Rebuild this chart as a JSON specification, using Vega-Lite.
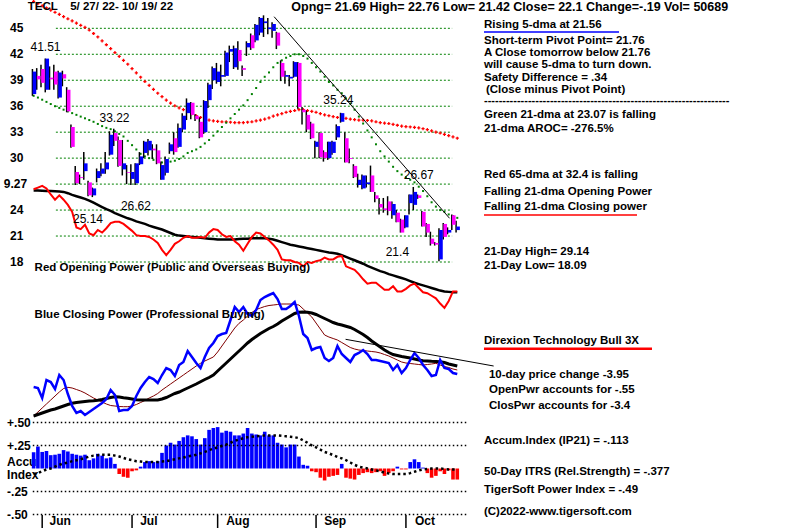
{
"$schema": "https://vega.github.io/schema/vega-lite/v6.json",
"width": 800, "height": 528, "padding": 0,
"autosize": {"type": "none"},
"background": "white",
"config": {"view": {"stroke": null}, "text": {"font": "Liberation Sans"}},
"datasets": {
"d": [
{"i":0,"o":37.4,"h":40.3,"l":37.2,"c":40.0,"m65":48.1,"m21":37.2,"opb":26.25,"opr":26.4,"cp":33,"cpb":4,"cpr":4,"ai":0.177,"aim":-0.06},
{"i":1,"o":39.5,"h":40.4,"l":37.9,"c":39.1,"m65":47.85,"m21":37.0,"opb":26.25,"opr":26.6,"cp":32,"cpb":5.5,"cpr":8,"ai":0.239,"aim":-0.05},
{"i":2,"o":40.3,"h":40.8,"l":38.2,"c":38.7,"m65":47.6,"m21":36.75,"opb":26.22,"opr":26.8,"cp":22,"cpb":7,"cpr":12,"ai":0.18,"aim":-0.03},
{"i":3,"o":37.9,"h":41.51,"l":37.6,"c":41.5,"m65":47.35,"m21":36.5,"opb":26.2,"opr":26.5,"cp":40,"cpb":8.5,"cpr":16,"ai":0.19,"aim":-0.01},
{"i":4,"o":39.3,"h":40.6,"l":37.9,"c":39.1,"m65":47.1,"m21":36.25,"opb":26.2,"opr":25.8,"cp":38,"cpb":10,"cpr":20,"ai":0.145,"aim":0.0},
{"i":5,"o":40.0,"h":40.8,"l":37.9,"c":38.5,"m65":46.85,"m21":36.0,"opb":26.18,"opr":25.2,"cp":31,"cpb":11,"cpr":24,"ai":0.15,"aim":0.02},
{"i":6,"o":37.0,"h":40.1,"l":36.9,"c":39.9,"m65":46.6,"m21":35.8,"opb":26.15,"opr":25.7,"cp":45,"cpb":12.5,"cpr":28,"ai":0.16,"aim":0.04},
{"i":7,"o":39.7,"h":40.1,"l":38.3,"c":39.2,"m65":46.35,"m21":35.6,"opb":26.1,"opr":25.2,"cp":40,"cpb":14,"cpr":31.5,"ai":0.2,"aim":0.055},
{"i":8,"o":37.9,"h":38.2,"l":35.3,"c":35.4,"m65":46.1,"m21":35.4,"opb":25.95,"opr":24.6,"cp":26,"cpb":15.5,"cpr":32.7,"ai":0.185,"aim":0.065},
{"i":9,"o":33.6,"h":33.9,"l":31.2,"c":31.3,"m65":45.85,"m21":35.2,"opb":25.75,"opr":23.8,"cp":14,"cpb":16.7,"cpr":32,"ai":0.16,"aim":0.08},
{"i":10,"o":28.4,"h":29.1,"l":26.9,"c":27.1,"m65":45.6,"m21":35.0,"opb":25.6,"opr":22.0,"cp":7,"cpb":17.5,"cpr":30.5,"ai":0.15,"aim":0.09},
{"i":11,"o":27.8,"h":28.1,"l":27.0,"c":27.7,"m65":45.35,"m21":34.8,"opb":25.45,"opr":21.8,"cp":9,"cpb":18,"cpr":29,"ai":0.14,"aim":0.1},
{"i":12,"o":28.5,"h":30.7,"l":27.5,"c":29.4,"m65":45.1,"m21":34.6,"opb":25.3,"opr":22.3,"cp":5,"cpb":18.5,"cpr":27,"ai":0.15,"aim":0.115},
{"i":13,"o":27.2,"h":27.4,"l":25.6,"c":25.7,"m65":44.8,"m21":34.4,"opb":25.1,"opr":21.3,"cp":8,"cpb":19,"cpr":24.5,"ai":0.09,"aim":0.13},
{"i":14,"o":25.7,"h":26.6,"l":25.5,"c":26.5,"m65":44.4,"m21":34.2,"opb":24.85,"opr":21.1,"cp":11,"cpb":19.3,"cpr":22,"ai":0.11,"aim":0.14},
{"i":15,"o":27.7,"h":28.8,"l":27.2,"c":28.5,"m65":44.0,"m21":33.95,"opb":24.6,"opr":21.7,"cp":14,"cpb":19.8,"cpr":20,"ai":0.16,"aim":0.145},
{"i":16,"o":28.2,"h":29.4,"l":27.9,"c":28.8,"m65":43.55,"m21":33.7,"opb":24.35,"opr":21.4,"cp":17,"cpb":20.5,"cpr":18,"ai":0.14,"aim":0.15},
{"i":17,"o":28.7,"h":30.7,"l":28.2,"c":29.5,"m65":43.1,"m21":33.5,"opb":24.1,"opr":21.9,"cp":21,"cpb":21.5,"cpr":16,"ai":0.11,"aim":0.15},
{"i":18,"o":30.4,"h":33.1,"l":30.3,"c":32.7,"m65":42.65,"m21":33.35,"opb":23.9,"opr":22.5,"cp":30,"cpb":22.5,"cpr":14.5,"ai":0.12,"aim":0.15},
{"i":19,"o":32.9,"h":33.4,"l":31.4,"c":32.0,"m65":42.2,"m21":33.1,"opb":23.65,"opr":22.65,"cp":25,"cpb":23.3,"cpr":14,"ai":0.05,"aim":0.14},
{"i":20,"o":32.1,"h":32.5,"l":29.0,"c":29.1,"m65":41.75,"m21":32.8,"opb":23.45,"opr":22.65,"cp":9,"cpb":23,"cpr":13.5,"ai":-0.06,"aim":0.13},
{"i":21,"o":28.7,"h":32.1,"l":28.0,"c":29.4,"m65":41.3,"m21":32.5,"opb":23.25,"opr":22.4,"cp":10,"cpb":22.3,"cpr":13.3,"ai":-0.09,"aim":0.115},
{"i":22,"o":28.4,"h":29.2,"l":27.0,"c":28.3,"m65":40.85,"m21":32.0,"opb":23.05,"opr":22.0,"cp":10,"cpb":21.7,"cpr":13.3,"ai":-0.1,"aim":0.1},
{"i":23,"o":27.6,"h":29.3,"l":26.9,"c":28.4,"m65":40.35,"m21":31.5,"opb":22.9,"opr":21.6,"cp":14,"cpb":21,"cpr":14,"ai":-0.03,"aim":0.09},
{"i":24,"o":27.1,"h":29.4,"l":26.9,"c":29.4,"m65":39.85,"m21":31.0,"opb":22.7,"opr":21.1,"cp":24,"cpb":20.3,"cpr":15.5,"ai":-0.02,"aim":0.08},
{"i":25,"o":29.3,"h":30.7,"l":29.2,"c":30.2,"m65":39.35,"m21":30.5,"opb":22.55,"opr":21.0,"cp":32,"cpb":20,"cpr":17.5,"ai":0.02,"aim":0.075},
{"i":26,"o":30.6,"h":32.0,"l":30.0,"c":31.9,"m65":38.85,"m21":30.2,"opb":22.4,"opr":21.0,"cp":38,"cpb":20,"cpr":19.5,"ai":0.07,"aim":0.07},
{"i":27,"o":30.9,"h":32.2,"l":30.3,"c":32.0,"m65":38.4,"m21":30.0,"opb":22.2,"opr":20.9,"cp":43,"cpb":20,"cpr":22,"ai":0.08,"aim":0.07},
{"i":28,"o":31.1,"h":31.6,"l":29.9,"c":30.9,"m65":37.95,"m21":29.8,"opb":22.05,"opr":20.6,"cp":41,"cpb":20,"cpr":24,"ai":0.07,"aim":0.07},
{"i":29,"o":30.9,"h":31.6,"l":29.3,"c":29.4,"m65":37.5,"m21":29.6,"opb":21.9,"opr":20.2,"cp":37,"cpb":20,"cpr":26.5,"ai":0.08,"aim":0.07},
{"i":30,"o":27.5,"h":29.6,"l":27.5,"c":29.2,"m65":37.1,"m21":29.5,"opb":21.75,"opr":19.4,"cp":45,"cpb":21,"cpr":30,"ai":0.17,"aim":0.075},
{"i":31,"o":28.3,"h":30.2,"l":28.0,"c":29.9,"m65":36.7,"m21":29.5,"opb":21.55,"opr":18.8,"cp":52,"cpb":22.5,"cpr":33,"ai":0.25,"aim":0.08},
{"i":32,"o":30.8,"h":31.8,"l":30.5,"c":31.6,"m65":36.35,"m21":29.6,"opb":21.35,"opr":19.4,"cp":50,"cpb":24.5,"cpr":36,"ai":0.28,"aim":0.09},
{"i":33,"o":32.3,"h":33.0,"l":30.4,"c":30.7,"m65":36.05,"m21":29.7,"opb":21.15,"opr":20.1,"cp":44,"cpb":26.5,"cpr":39,"ai":0.26,"aim":0.1},
{"i":34,"o":31.3,"h":34.0,"l":31.2,"c":33.5,"m65":35.8,"m21":29.9,"opb":21.05,"opr":20.4,"cp":55,"cpb":28,"cpr":42,"ai":0.3,"aim":0.11},
{"i":35,"o":33.3,"h":35.2,"l":33.0,"c":34.9,"m65":35.6,"m21":30.2,"opb":21.0,"opr":20.8,"cp":58,"cpb":30,"cpr":45,"ai":0.34,"aim":0.12},
{"i":36,"o":35.2,"h":36.9,"l":34.4,"c":36.4,"m65":35.4,"m21":30.6,"opb":20.95,"opr":21.0,"cp":69,"cpb":32,"cpr":48,"ai":0.36,"aim":0.13},
{"i":37,"o":36.4,"h":36.5,"l":34.5,"c":35.0,"m65":35.15,"m21":30.8,"opb":20.9,"opr":20.8,"cp":63,"cpb":34,"cpr":51,"ai":0.35,"aim":0.14},
{"i":38,"o":34.9,"h":35.1,"l":34.3,"c":34.5,"m65":34.9,"m21":31.0,"opb":20.85,"opr":20.8,"cp":57,"cpb":36,"cpr":54,"ai":0.32,"aim":0.15},
{"i":39,"o":34.2,"h":34.7,"l":32.3,"c":32.4,"m65":34.7,"m21":31.3,"opb":20.8,"opr":20.9,"cp":52,"cpb":38.3,"cpr":56.7,"ai":0.26,"aim":0.165},
{"i":40,"o":33.0,"h":36.7,"l":32.8,"c":36.6,"m65":34.55,"m21":31.7,"opb":20.75,"opr":20.8,"cp":63,"cpb":40.5,"cpr":59,"ai":0.33,"aim":0.18},
{"i":41,"o":36.7,"h":38.7,"l":35.8,"c":38.5,"m65":34.4,"m21":32.1,"opb":20.7,"opr":21.4,"cp":72,"cpb":42.5,"cpr":61,"ai":0.42,"aim":0.2},
{"i":42,"o":39.0,"h":40.6,"l":38.0,"c":40.4,"m65":34.3,"m21":32.6,"opb":20.65,"opr":21.8,"cp":77,"cpb":45,"cpr":63,"ai":0.44,"aim":0.215},
{"i":43,"o":38.8,"h":41.0,"l":38.6,"c":40.0,"m65":34.25,"m21":33.1,"opb":20.6,"opr":21.7,"cp":84,"cpb":49,"cpr":68,"ai":0.45,"aim":0.23},
{"i":44,"o":39.4,"h":40.8,"l":38.3,"c":39.6,"m65":34.2,"m21":33.6,"opb":20.6,"opr":21.2,"cp":86,"cpb":53,"cpr":74,"ai":0.39,"aim":0.245},
{"i":45,"o":39.5,"h":42.4,"l":39.4,"c":42.2,"m65":34.2,"m21":34.1,"opb":20.6,"opr":20.9,"cp":87,"cpb":57,"cpr":80,"ai":0.41,"aim":0.26},
{"i":46,"o":42.3,"h":43.0,"l":41.1,"c":42.6,"m65":34.15,"m21":34.6,"opb":20.6,"opr":21.0,"cp":100,"cpb":61,"cpr":86,"ai":0.4,"aim":0.28},
{"i":47,"o":40.5,"h":43.0,"l":40.3,"c":42.7,"m65":34.1,"m21":35.1,"opb":20.6,"opr":20.4,"cp":113,"cpb":65,"cpr":92,"ai":0.36,"aim":0.3},
{"i":48,"o":42.5,"h":43.5,"l":40.2,"c":41.2,"m65":34.1,"m21":35.6,"opb":20.65,"opr":20.0,"cp":108,"cpb":69,"cpr":96.7,"ai":0.36,"aim":0.315},
{"i":49,"o":40.4,"h":40.7,"l":39.5,"c":40.2,"m65":34.1,"m21":36.1,"opb":20.7,"opr":19.3,"cp":113,"cpb":73,"cpr":100,"ai":0.38,"aim":0.33},
{"i":50,"o":42.8,"h":43.5,"l":41.8,"c":43.3,"m65":34.15,"m21":36.7,"opb":20.7,"opr":20.1,"cp":106,"cpb":77,"cpr":104,"ai":0.44,"aim":0.34},
{"i":51,"o":44.2,"h":44.4,"l":42.5,"c":42.7,"m65":34.2,"m21":37.4,"opb":20.75,"opr":20.9,"cp":104,"cpb":80.5,"cpr":107.5,"ai":0.38,"aim":0.345},
{"i":52,"o":43.6,"h":45.5,"l":43.4,"c":45.4,"m65":34.3,"m21":38.1,"opb":20.75,"opr":21.4,"cp":110,"cpb":83.5,"cpr":110.5,"ai":0.37,"aim":0.35},
{"i":53,"o":44.5,"h":46.3,"l":44.2,"c":46.2,"m65":34.4,"m21":38.8,"opb":20.75,"opr":21.3,"cp":120,"cpb":86.5,"cpr":112,"ai":0.36,"aim":0.355},
{"i":54,"o":45.6,"h":46.5,"l":44.0,"c":45.8,"m65":34.5,"m21":39.4,"opb":20.75,"opr":20.9,"cp":123,"cpb":89,"cpr":113.5,"ai":0.4,"aim":0.36},
{"i":55,"o":44.9,"h":46.2,"l":44.3,"c":45.1,"m65":34.65,"m21":39.9,"opb":20.7,"opr":20.5,"cp":125,"cpb":91.5,"cpr":114.5,"ai":0.36,"aim":0.36},
{"i":56,"o":44.7,"h":45.7,"l":43.9,"c":45.5,"m65":34.85,"m21":40.5,"opb":20.6,"opr":20.0,"cp":127,"cpb":93.5,"cpr":115,"ai":0.36,"aim":0.36},
{"i":57,"o":44.5,"h":44.6,"l":42.6,"c":43.0,"m65":35.0,"m21":41.0,"opb":20.45,"opr":19.4,"cp":121,"cpb":96,"cpr":115.5,"ai":0.28,"aim":0.36},
{"i":58,"o":41.0,"h":41.3,"l":38.9,"c":39.4,"m65":35.15,"m21":41.3,"opb":20.3,"opr":18.3,"cp":111,"cpb":99,"cpr":116,"ai":0.26,"aim":0.355},
{"i":59,"o":39.4,"h":40.1,"l":38.6,"c":39.6,"m65":35.3,"m21":41.6,"opb":20.15,"opr":18.2,"cp":111,"cpb":101.5,"cpr":116,"ai":0.23,"aim":0.35},
{"i":60,"o":39.2,"h":39.6,"l":38.3,"c":39.4,"m65":35.4,"m21":41.8,"opb":20.0,"opr":18.2,"cp":114,"cpb":104,"cpr":116,"ai":0.26,"aim":0.345},
{"i":61,"o":39.4,"h":41.2,"l":39.3,"c":41.1,"m65":35.5,"m21":42.0,"opb":19.9,"opr":18.0,"cp":118,"cpb":106.5,"cpr":115.5,"ai":0.26,"aim":0.34},
{"i":62,"o":41.0,"h":41.1,"l":35.7,"c":35.9,"m65":35.6,"m21":42.0,"opb":19.8,"opr":17.9,"cp":104,"cpb":107.7,"cpr":115,"ai":0.13,"aim":0.33},
{"i":63,"o":35.6,"h":35.9,"l":33.9,"c":35.3,"m65":35.6,"m21":41.8,"opb":19.7,"opr":17.5,"cp":86,"cpb":108,"cpr":111,"ai":0.04,"aim":0.305},
{"i":64,"o":35.0,"h":35.5,"l":33.0,"c":33.3,"m65":35.5,"m21":41.5,"opb":19.6,"opr":18.0,"cp":82,"cpb":107.7,"cpr":107,"ai":0.03,"aim":0.28},
{"i":65,"o":34.0,"h":34.2,"l":32.2,"c":32.3,"m65":35.4,"m21":41.0,"opb":19.5,"opr":17.9,"cp":70,"cpb":107,"cpr":103,"ai":-0.03,"aim":0.25},
{"i":66,"o":31.3,"h":32.0,"l":30.0,"c":31.9,"m65":35.3,"m21":40.5,"opb":19.4,"opr":18.1,"cp":72,"cpb":105.5,"cpr":97,"ai":-0.04,"aim":0.23},
{"i":67,"o":32.9,"h":33.0,"l":30.0,"c":30.1,"m65":35.15,"m21":40.0,"opb":19.3,"opr":18.2,"cp":73,"cpb":103.5,"cpr":91,"ai":-0.1,"aim":0.205},
{"i":68,"o":30.7,"h":30.9,"l":29.6,"c":30.0,"m65":35.0,"m21":39.4,"opb":19.2,"opr":18.5,"cp":62,"cpb":101.5,"cpr":85,"ai":-0.13,"aim":0.18},
{"i":69,"o":30.0,"h":31.9,"l":29.8,"c":31.9,"m65":34.9,"m21":38.8,"opb":19.1,"opr":18.3,"cp":59,"cpb":99.5,"cpr":83,"ai":-0.09,"aim":0.165},
{"i":70,"o":30.6,"h":32.0,"l":30.4,"c":31.9,"m65":34.8,"m21":38.4,"opb":19.05,"opr":18.3,"cp":62,"cpb":97.5,"cpr":81.5,"ai":-0.08,"aim":0.145},
{"i":71,"o":32.4,"h":33.9,"l":32.1,"c":33.7,"m65":34.7,"m21":37.9,"opb":18.95,"opr":18.6,"cp":74,"cpb":96,"cpr":80,"ai":-0.07,"aim":0.125},
{"i":72,"o":34.2,"h":35.24,"l":34.1,"c":35.2,"m65":34.65,"m21":37.5,"opb":18.8,"opr":18.7,"cp":66,"cpb":95,"cpr":77.5,"ai":0.05,"aim":0.11},
{"i":73,"o":32.3,"h":33.0,"l":29.5,"c":29.5,"m65":34.6,"m21":36.9,"opb":18.6,"opr":17.5,"cp":62,"cpb":93.8,"cpr":75,"ai":-0.1,"aim":0.09},
{"i":74,"o":30.0,"h":31.1,"l":29.4,"c":29.9,"m65":34.5,"m21":36.3,"opb":18.4,"opr":17.3,"cp":58,"cpb":92.5,"cpr":72.5,"ai":-0.11,"aim":0.065},
{"i":75,"o":29.1,"h":29.3,"l":27.7,"c":27.8,"m65":34.45,"m21":35.6,"opb":18.2,"opr":17.1,"cp":65,"cpb":90.5,"cpr":71,"ai":-0.12,"aim":0.04},
{"i":76,"o":26.9,"h":28.2,"l":26.6,"c":27.5,"m65":34.4,"m21":34.8,"opb":18.0,"opr":16.6,"cp":67,"cpb":88,"cpr":70,"ai":-0.07,"aim":0.02},
{"i":77,"o":26.5,"h":28.1,"l":26.4,"c":28.0,"m65":34.4,"m21":34.0,"opb":17.8,"opr":16.0,"cp":70,"cpb":85.5,"cpr":69.5,"ai":-0.05,"aim":0.01},
{"i":78,"o":27.0,"h":28.0,"l":26.6,"c":27.2,"m65":34.35,"m21":33.2,"opb":17.55,"opr":15.5,"cp":66,"cpb":82.5,"cpr":69,"ai":-0.04,"aim":0.0},
{"i":79,"o":28.0,"h":29.14,"l":26.1,"c":26.1,"m65":34.3,"m21":32.4,"opb":17.35,"opr":15.6,"cp":60,"cpb":79,"cpr":68.5,"ai":-0.05,"aim":-0.01},
{"i":80,"o":25.7,"h":26.1,"l":24.9,"c":25.3,"m65":34.2,"m21":31.6,"opb":17.15,"opr":15.6,"cp":60,"cpb":76,"cpr":68,"ai":-0.04,"aim":-0.02},
{"i":81,"o":24.7,"h":25.4,"l":23.5,"c":24.3,"m65":34.1,"m21":30.8,"opb":16.95,"opr":15.2,"cp":59,"cpb":73,"cpr":67,"ai":-0.03,"aim":-0.03},
{"i":82,"o":24.2,"h":25.4,"l":23.7,"c":24.0,"m65":34.05,"m21":30.2,"opb":16.8,"opr":14.8,"cp":58,"cpb":70,"cpr":65.5,"ai":-0.08,"aim":-0.045},
{"i":83,"o":25.0,"h":25.6,"l":23.4,"c":23.9,"m65":34.0,"m21":29.6,"opb":16.6,"opr":14.8,"cp":57,"cpb":67.5,"cpr":64,"ai":-0.05,"aim":-0.055},
{"i":84,"o":23.4,"h":25.0,"l":23.0,"c":24.7,"m65":33.9,"m21":29.0,"opb":16.45,"opr":15.2,"cp":50,"cpb":65.5,"cpr":62,"ai":-0.03,"aim":-0.06},
{"i":85,"o":23.7,"h":24.0,"l":22.6,"c":22.6,"m65":33.8,"m21":28.5,"opb":16.3,"opr":14.6,"cp":55,"cpb":64.5,"cpr":60,"ai":0.02,"aim":-0.06},
{"i":86,"o":22.9,"h":23.0,"l":21.4,"c":21.4,"m65":33.7,"m21":28.1,"opb":16.15,"opr":14.6,"cp":47,"cpb":63.5,"cpr":58,"ai":-0.01,"aim":-0.06},
{"i":87,"o":22.0,"h":23.4,"l":21.9,"c":23.4,"m65":33.65,"m21":27.8,"opb":16.0,"opr":14.9,"cp":52,"cpb":62.8,"cpr":57,"ai":-0.01,"aim":-0.06},
{"i":88,"o":24.8,"h":25.8,"l":23.5,"c":25.8,"m65":33.6,"m21":27.5,"opb":15.8,"opr":15.3,"cp":60,"cpb":62,"cpr":56.5,"ai":0.07,"aim":-0.05},
{"i":89,"o":24.6,"h":26.67,"l":24.0,"c":26.1,"m65":33.55,"m21":27.2,"opb":15.6,"opr":15.5,"cp":67,"cpb":61,"cpr":56,"ai":0.1,"aim":-0.035},
{"i":90,"o":25.7,"h":25.8,"l":25.3,"c":25.4,"m65":33.5,"m21":26.7,"opb":15.45,"opr":15.0,"cp":62,"cpb":60,"cpr":55.5,"ai":0.07,"aim":-0.02},
{"i":91,"o":23.8,"h":23.9,"l":22.1,"c":22.1,"m65":33.4,"m21":26.2,"opb":15.3,"opr":14.5,"cp":55,"cpb":59.3,"cpr":55,"ai":0.01,"aim":-0.01},
{"i":92,"o":22.4,"h":22.5,"l":20.9,"c":21.4,"m65":33.3,"m21":25.6,"opb":15.15,"opr":14.4,"cp":50,"cpb":59,"cpr":55.5,"ai":-0.05,"aim":-0.005},
{"i":93,"o":20.7,"h":21.5,"l":19.9,"c":20.1,"m65":33.15,"m21":24.9,"opb":15.0,"opr":14.1,"cp":44,"cpb":58.7,"cpr":56,"ai":-0.1,"aim":0.0},
{"i":94,"o":20.2,"h":20.3,"l":19.9,"c":20.0,"m65":33.0,"m21":24.4,"opb":14.85,"opr":13.8,"cp":45,"cpb":58.5,"cpr":56.7,"ai":-0.08,"aim":0.0},
{"i":95,"o":18.3,"h":21.9,"l":18.09,"c":21.7,"m65":32.9,"m21":24.0,"opb":14.7,"opr":13.2,"cp":60,"cpb":58.3,"cpr":55,"ai":-0.03,"aim":0.0},
{"i":96,"o":22.4,"h":22.5,"l":20.6,"c":20.9,"m65":32.75,"m21":23.8,"opb":14.6,"opr":12.7,"cp":52,"cpb":57.5,"cpr":53.5,"ai":-0.06,"aim":-0.005},
{"i":97,"o":21.4,"h":22.0,"l":21.2,"c":21.7,"m65":32.6,"m21":23.5,"opb":14.55,"opr":13.5,"cp":51,"cpb":56,"cpr":52.5,"ai":-0.02,"aim":-0.01},
{"i":98,"o":23.4,"h":23.5,"l":21.7,"c":22.3,"m65":32.45,"m21":23.3,"opb":14.5,"opr":14.6,"cp":47,"cpb":55,"cpr":51,"ai":-0.12,"aim":-0.01},
{"i":99,"o":21.69,"h":22.76,"l":21.42,"c":22.1,"m65":32.3,"m21":23.1,"opb":14.5,"opr":14.6,"cp":46,"cpb":54,"cpr":50,"ai":-0.12,"aim":-0.01}
],
"tx": [
{"i":-1.38,"ln":0.58,"t":"TECL"},
{"i":8.54,"ln":0.58,"t":"5/ 27/ 22- 10/ 19/ 22"},
{"i":105.24,"ln":2.08,"t":"Rising 5-dma at 21.56"},
{"i":105.24,"ln":3.4,"t":"Short-term Pivot Point= 21.76"},
{"i":105.24,"ln":4.4,"t":"A Close tomorrow below  21.76"},
{"i":105.24,"ln":5.38,"t":"will cause 5-dma to turn down."},
{"i":105.24,"ln":6.48,"t":"Safety Difference = .34"},
{"i":105.7,"ln":7.5,"t":"(Close minus Pivot Point)"},
{"i":105.24,"ln":9.58,"t":"Green 21-dma at  23.07 is falling"},
{"i":105.24,"ln":10.75,"t":"21-dma AROC= -276.5%"},
{"i":105.24,"ln":14.6,"t":"Red 65-dma at  32.4 is falling"},
{"i":105.24,"ln":16.0,"t":"Falling 21-dma Opening Power"},
{"i":105.24,"ln":17.25,"t":"Falling 21-dma Closing power"},
{"i":105.24,"ln":21.04,"t":"21-Day High= 29.14"},
{"i":105.24,"ln":22.15,"t":"21-Day Low= 18.09"},
{"i":105.24,"ln":28.44,"t":"Direxion Technology Bull 3X"},
{"i":106.4,"ln":31.25,"t":"10-day price change -3.95"},
{"i":106.4,"ln":32.5,"t":"OpenPwr accounts for -.55"},
{"i":106.4,"ln":33.8,"t":"ClosPwr accounts for -3.4"},
{"i":105.24,"ln":36.75,"t":"Accum.Index (IP21) = -.113"},
{"i":105.24,"ln":39.3,"t":"50-Day ITRS (Rel.Strength) = -.377"},
{"i":105.24,"ln":40.83,"t":"TigerSoft Power Index = -.49"},
{"i":105.24,"ln":42.63,"t":"(C)2022-www.tigersoft.com"},
{"i":0.23,"ln":22.36,"t":"Red Opening Power (Public and Overseas Buying)"},
{"i":0.23,"ln":26.25,"t":"Blue Closing Power (Professional Buying)"}
]
},
"layer": [
{
"encoding": {"x": {"field": "i", "type": "quantitative", "scale": {"domain": [-6.69, 177.92], "nice": false, "zero": false}, "axis": null}},
"layer": [
{"data": {"values": [{"g":45,"i":5.2,"i2":97.8},{"g":42,"i":5.2,"i2":97.8},{"g":39,"i":5.2,"i2":97.8},{"g":36,"i":5.2,"i2":97.8},{"g":33,"i":5.2,"i2":97.8},{"g":30,"i":5.2,"i2":97.8},{"g":27,"i":5.2,"i2":97.8},{"g":24,"i":5.2,"i2":97.8},{"g":21,"i":5.2,"i2":97.8},{"g":18,"i":5.2,"i2":97.8}]},
 "mark": {"type": "rule", "color": "#008000", "strokeWidth": 1, "strokeDash": [2, 2]},
 "encoding": {"x2": {"field": "i2"},
  "y": {"field": "g", "type": "quantitative", "scale": {"domain": [-12.73, 48.27], "nice": false, "zero": false}, "axis": null}}},
{"data": {"name": "d"}, "mark": {"type": "point", "shape": "cross", "filled": true, "size": 10, "color": "#ff0000", "opacity": 1},
 "encoding": {"y": {"field": "m65", "type": "quantitative", "scale": {"domain": [-12.73, 48.27], "nice": false, "zero": false}, "axis": null}}},
{"data": {"name": "d"}, "mark": {"type": "square", "size": 4, "color": "#008000", "opacity": 1},
 "encoding": {"y": {"field": "m21", "type": "quantitative", "scale": {"domain": [-12.73, 48.27], "nice": false, "zero": false}, "axis": null}}},
{"data": {"name": "d"}, "mark": {"type": "line", "color": "#000000", "strokeWidth": 2.5},
 "encoding": {"y": {"field": "opb", "type": "quantitative", "scale": {"domain": [-12.73, 48.27], "nice": false, "zero": false}, "axis": null}}},
{"data": {"name": "d"}, "mark": {"type": "line", "color": "#ff0000", "strokeWidth": 2},
 "encoding": {"y": {"field": "opr", "type": "quantitative", "scale": {"domain": [-12.73, 48.27], "nice": false, "zero": false}, "axis": null}}},
{"data": {"name": "d"}, "mark": {"type": "rule", "color": "#000000", "strokeWidth": 1.5, "xOffset": -1.2},
 "encoding": {"y": {"field": "h", "type": "quantitative", "scale": {"domain": [-12.73, 48.27], "nice": false, "zero": false}, "axis": null}, "y2": {"field": "l"}}},
{"data": {"name": "d"}, "mark": {"type": "bar", "width": 3.6, "xOffset": 0.8},
 "encoding": {"y": {"field": "o", "type": "quantitative", "scale": {"domain": [-12.73, 48.27], "nice": false, "zero": false}, "axis": null}, "y2": {"field": "c"},
  "color": {"condition": {"test": "datum.c >= datum.o", "value": "#0000ff"}, "value": "#ff00ff"}}},
{"data": {"values": [{"i":56.2,"p":46.34},{"i":97.2,"p":23.05}]}, "mark": {"type": "line", "color": "#000000", "strokeWidth": 1},
 "encoding": {"y": {"field": "p", "type": "quantitative", "scale": {"domain": [-12.73, 48.27], "nice": false, "zero": false}, "axis": null}}},
{"data": {"values": [{"i":-2.4,"p":45,"t":"45"},{"i":-2.4,"p":42,"t":"42"},{"i":-2.4,"p":39,"t":"39"},{"i":-2.4,"p":36,"t":"36"},{"i":-2.4,"p":33,"t":"33"},{"i":-2.4,"p":30,"t":"30"},{"i":-1.5,"p":27,"t":"9.27"},{"i":-2.4,"p":24,"t":"24"},{"i":-2.4,"p":21,"t":"21"},{"i":-2.4,"p":18,"t":"18"}]},
 "mark": {"type": "text", "align": "right", "baseline": "middle", "fontSize": 12, "fontWeight": "bold", "color": "#000000"},
 "encoding": {"y": {"field": "p", "type": "quantitative", "scale": {"domain": [-12.73, 48.27], "nice": false, "zero": false}, "axis": null}, "text": {"field": "t"}}},
{"data": {"values": [{"i":2.77,"p":42.87,"t":"41.51"},{"i":18.9,"p":34.64,"t":"33.22"},{"i":71.2,"p":36.72,"t":"35.24"},{"i":23.9,"p":24.47,"t":"26.62"},{"i":12.7,"p":22.97,"t":"25.14"},{"i":90.0,"p":28.05,"t":"26.67"},{"i":85.0,"p":19.16,"t":"21.4"}]},
 "mark": {"type": "text", "align": "center", "baseline": "middle", "fontSize": 12, "color": "#000000"},
 "encoding": {"y": {"field": "p", "type": "quantitative", "scale": {"domain": [-12.73, 48.27], "nice": false, "zero": false}, "axis": null}, "text": {"field": "t"}}}
]
},
{
"encoding": {"x": {"field": "i", "type": "quantitative", "scale": {"domain": [-6.69, 177.92], "nice": false, "zero": false}, "axis": null}},
"layer": [
{"data": {"name": "d"}, "mark": {"type": "line", "color": "#800000", "strokeWidth": 1},
 "encoding": {"y": {"field": "cpr", "type": "quantitative", "scale": {"domain": [-108, 420], "nice": false, "zero": false}, "axis": null}}},
{"data": {"name": "d"}, "mark": {"type": "line", "color": "#000000", "strokeWidth": 3},
 "encoding": {"y": {"field": "cpb", "type": "quantitative", "scale": {"domain": [-108, 420], "nice": false, "zero": false}, "axis": null}}},
{"data": {"name": "d"}, "mark": {"type": "line", "color": "#0000ff", "strokeWidth": 2.5},
 "encoding": {"y": {"field": "cp", "type": "quantitative", "scale": {"domain": [-108, 420], "nice": false, "zero": false}, "axis": null}}},
{"data": {"values": [{"i":72.9,"v":80.7},{"i":107.5,"v":54}]}, "mark": {"type": "line", "color": "#000000", "strokeWidth": 1},
 "encoding": {"y": {"field": "v", "type": "quantitative", "scale": {"domain": [-108, 420], "nice": false, "zero": false}, "axis": null}}}
]
},
{
"encoding": {"x": {"field": "i", "type": "quantitative", "scale": {"domain": [-6.69, 177.92], "nice": false, "zero": false}, "axis": null}},
"layer": [
{"data": {"values": [{"i":-6.2,"a":0.5,"t":"+.50"},{"i":-6.2,"a":0.25,"t":"+.25"},{"i":-6.2,"a":0.068,"t":"Accu"},{"i":-6.2,"a":-0.072,"t":"Index"},{"i":-6.2,"a":-0.25,"t":"-.25"},{"i":-6.2,"a":-0.5,"t":"-.50"}]},
 "mark": {"type": "text", "align": "left", "baseline": "middle", "fontSize": 12, "fontWeight": "bold", "color": "#000000"},
 "encoding": {"y": {"field": "a", "type": "quantitative", "scale": {"domain": [-0.6467, 5.0924], "nice": false, "zero": false}, "axis": null}, "text": {"field": "t"}}},
{"data": {"name": "d"}, "mark": {"type": "bar", "width": 3.6},
 "encoding": {"y": {"field": "ai", "type": "quantitative", "scale": {"domain": [-0.6467, 5.0924], "nice": false, "zero": false}, "axis": null}, "y2": {"datum": 0},
  "color": {"condition": {"test": "datum.ai >= 0", "value": "#0000ff"}, "value": "#ff0000"}}},
{"data": {"values": [{"a":0.5,"i":-0.2,"i2":101.1},{"a":0.25,"i":-0.2,"i2":101.1},{"a":-0.25,"i":-0.2,"i2":101.1},{"a":-0.5,"i":-0.2,"i2":101.1}]},
 "mark": {"type": "rule", "color": "#000000", "strokeWidth": 1.3, "strokeDash": [1.5, 2.5], "opacity": 1},
 "encoding": {"x2": {"field": "i2"},
  "y": {"field": "a", "type": "quantitative", "scale": {"domain": [-0.6467, 5.0924], "nice": false, "zero": false}, "axis": null}}},
{"data": {"name": "d"}, "mark": {"type": "line", "color": "#000000", "strokeWidth": 2.5, "strokeDash": [2.5, 3]},
 "encoding": {"y": {"field": "aim", "type": "quantitative", "scale": {"domain": [-0.6467, 5.0924], "nice": false, "zero": false}, "axis": null}}},
{"data": {"values": [{"i":2},{"i":23},{"i":43},{"i":66},{"i":87}]},
 "mark": {"type": "rule", "color": "#000000", "strokeWidth": 1.5},
 "encoding": {"y": {"datum": -0.505, "type": "quantitative", "scale": {"domain": [-0.6467, 5.0924], "nice": false, "zero": false}, "axis": null}, "y2": {"datum": -0.6467}}},
{"data": {"values": [{"i":3.7,"t":"Jun"},{"i":24.9,"t":"Jul"},{"i":45.0,"t":"Aug"},{"i":67.9,"t":"Sep"},{"i":89.1,"t":"Oct"}]},
 "mark": {"type": "text", "align": "left", "baseline": "middle", "fontSize": 12, "fontWeight": "bold", "color": "#000000"},
 "encoding": {"y": {"datum": -0.567, "type": "quantitative", "scale": {"domain": [-0.6467, 5.0924], "nice": false, "zero": false}, "axis": null}, "text": {"field": "t"}}}
]
},
{
"encoding": {"x": {"field": "i", "type": "quantitative", "scale": {"domain": [-6.69, 177.92], "nice": false, "zero": false}, "axis": null}},
"layer": [
{"data": {"name": "tx"},
 "mark": {"type": "text", "align": "left", "baseline": "middle", "fontSize": 11.5, "fontWeight": "bold", "color": "#000000"},
 "encoding": {"y": {"field": "ln", "type": "quantitative", "scale": {"domain": [0, 44], "nice": false, "zero": false, "reverse": true}, "axis": null}, "text": {"field": "t"}}},
{"data": {"values": [{"i":60.23,"ln":0.58,"t":"Opng= 21.69 High= 22.76 Low= 21.42 Close= 22.1 Change=-.19 Vol= 50689"}]},
 "mark": {"type": "text", "align": "left", "baseline": "middle", "fontSize": 12.5, "fontWeight": "bold", "color": "#000000"},
 "encoding": {"y": {"field": "ln", "type": "quantitative", "scale": {"domain": [0, 44], "nice": false, "zero": false, "reverse": true}, "axis": null}, "text": {"field": "t"}}},
{"data": {"values": [{"i":105.24,"ln":8.375,"t":"-------------------------------------------------------------------"}]},
 "mark": {"type": "text", "align": "left", "baseline": "middle", "fontSize": 11, "fontWeight": "bold", "color": "#000000"},
 "encoding": {"y": {"field": "ln", "type": "quantitative", "scale": {"domain": [0, 44], "nice": false, "zero": false, "reverse": true}, "axis": null}, "text": {"field": "t"}}},
{"data": {"values": [{"i":105.24,"i2":136.8,"ln":2.67}]},
 "mark": {"type": "rule", "color": "#0000ff", "strokeWidth": 1.5},
 "encoding": {"x2": {"field": "i2"}, "y": {"field": "ln", "type": "quantitative", "scale": {"domain": [0, 44], "nice": false, "zero": false, "reverse": true}, "axis": null}}},
{"data": {"values": [{"i":105.24,"i2":141.0,"ln":17.92}]},
 "mark": {"type": "rule", "color": "#ff0000", "strokeWidth": 1.5},
 "encoding": {"x2": {"field": "i2"}, "y": {"field": "ln", "type": "quantitative", "scale": {"domain": [0, 44], "nice": false, "zero": false, "reverse": true}, "axis": null}}},
{"data": {"values": [{"i":105.24,"i2":144.5,"ln":29.06}]},
 "mark": {"type": "rule", "color": "#ff0000", "strokeWidth": 2.5},
 "encoding": {"x2": {"field": "i2"}, "y": {"field": "ln", "type": "quantitative", "scale": {"domain": [0, 44], "nice": false, "zero": false, "reverse": true}, "axis": null}}}
]
}
],
"resolve": {"scale": {"y": "independent"}}
}
